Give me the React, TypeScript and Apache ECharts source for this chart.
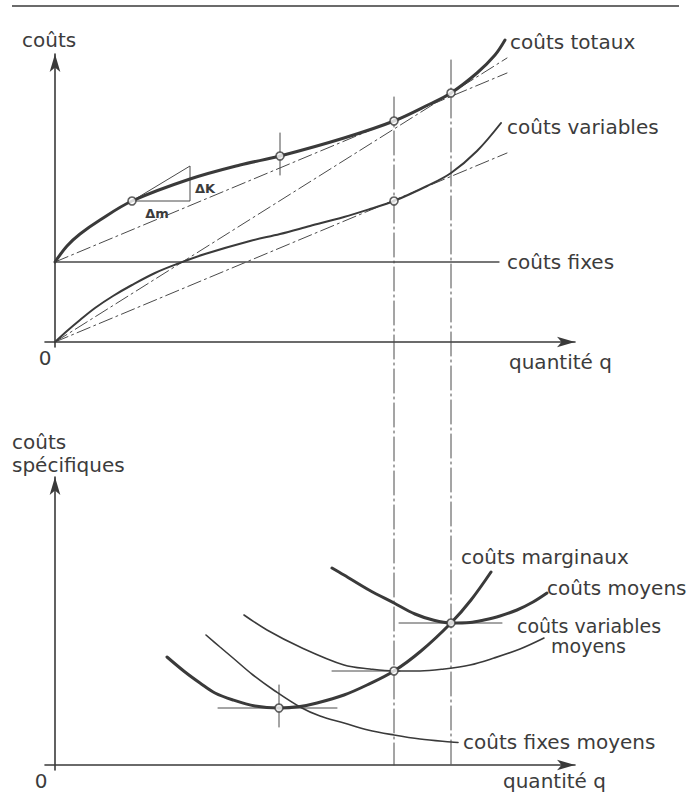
import React, { useEffect, useRef } from "react";
import * as echarts from "echarts";

// ---------- data (arbitrary units: quantity q, costs) ----------
// upper diagram: total costs
const totalCost: number[][] = [
  [0, 8.0], [1.2, 9.6], [2.5, 10.8], [4.5, 12.2], [7.7, 14.1], [13.5, 16.3], [18.5, 17.7],
  [22.5, 18.6], [28.9, 20.4], [33.9, 22.1], [37.5, 23.8], [39.6, 24.9], [42.2, 26.9],
  [44.0, 28.7], [45.0, 30.2],
];
const variableCost: number[][] = [
  [0, 0], [1.2, 1.1], [2.5, 2.2], [4.0, 3.4], [5.8, 4.6], [7.7, 5.7], [10.0, 6.9], [12.2, 7.8],
  [15.0, 8.8], [19.5, 10.1], [22.5, 10.8], [25.5, 11.6], [28.9, 12.5], [31.5, 13.3], [33.9, 14.1],
  [37.2, 15.6], [39.6, 16.9], [42.2, 19.1], [44.6, 21.9],
];
const fixedCost: number[][] = [[0, 8.0], [44.4, 8.0]];
// dash-dot rays
const rayOriginTotal: number[][] = [[0, 0], [45.2, 28.4]];
const rayFixedTotal: number[][] = [[0, 8.0], [45.2, 26.9]];
const rayOriginVariable: number[][] = [[0, 0], [45.2, 18.9]];
// tangent triangle (ΔK / Δm)
const tangentTriangle: number[][] = [[7.7, 14.1], [13.5, 17.6], [13.5, 14.1], [7.7, 14.1]];
const inflectionTick: number[][] = [[22.5, 20.9], [22.5, 16.7]];
const upperPoints: number[][] = [[7.7, 14.1], [22.5, 18.6], [33.9, 22.1], [39.6, 24.9], [33.9, 14.1]];

// lower diagram: unit costs
const marginalCost: number[][] = [
  [11.2, 10.8], [13.0, 9.3], [14.5, 8.2], [16.0, 7.2], [17.8, 6.5], [20.0, 5.9], [22.4, 5.7],
  [24.5, 5.85], [26.2, 6.2], [28.9, 7.0], [31.2, 8.0], [33.9, 9.4], [36.6, 11.4], [39.6, 14.2],
  [41.6, 16.5], [43.6, 19.3],
];
const averageCost: number[][] = [
  [27.7, 19.7], [28.9, 19.0], [31.4, 17.5], [33.9, 16.2], [36.0, 15.1], [37.8, 14.5], [39.6, 14.2],
  [41.5, 14.25], [42.9, 14.5], [44.5, 14.9], [46.2, 15.5], [47.8, 16.3], [49.2, 17.2],
];
const averageVariableCost: number[][] = [
  [18.9, 15.0], [21.2, 13.5], [24.5, 11.8], [28.9, 10.0], [31.5, 9.6], [33.9, 9.4], [36.5, 9.4],
  [38.9, 9.6], [41.5, 10.0], [43.9, 10.7], [46.5, 11.6], [48.9, 12.7],
];
const averageFixedCost: number[][] = [
  [15.1, 13.0], [16.5, 11.8], [17.8, 10.7], [19.8, 9.0], [22.0, 7.4], [24.5, 5.8], [26.5, 4.9],
  [28.9, 4.2], [31.3, 3.5], [33.9, 3.0], [36.5, 2.6], [39.6, 2.3], [40.3, 2.25],
];
const mcMinCrossH: number[][] = [[16.3, 5.7], [28.2, 5.7]];
const mcMinCrossV: number[][] = [[22.4, 8.0], [22.4, 3.8]];
const avcMinTick: number[][] = [[27.7, 9.4], [34.5, 9.4]];
const acMinTick: number[][] = [[34.4, 14.2], [44.7, 14.2]];
const lowerPoints: number[][] = [[22.4, 5.7], [33.9, 9.4], [39.6, 14.2]];
// guide lines joining both diagrams (drawn in lower diagram's scale)
const guideAvcMin: number[][] = [[33.9, 66.8], [33.9, 0]];
const guideAcMin: number[][] = [[39.6, 70.5], [39.6, 0]];

// ---------- styling ----------
const INK = "#3a3a3a";
const THIN = "#4a4a4a";
const FONT = "DejaVu Sans";
const DASHDOT: number[] = [14, 4, 2, 4];
const LONGDASHDOT: number[] = [24, 4, 2, 4];

function lineSeries(data: number[][], gi: number, width: number, extra: any = {}) {
  return {
    type: "line",
    xAxisIndex: gi,
    yAxisIndex: gi,
    data,
    showSymbol: false,
    symbol: "none",
    clip: false,
    silent: true,
    smooth: extra.smooth ?? false,
    z: extra.z ?? 3,
    lineStyle: { color: extra.color ?? INK, width, type: extra.type ?? "solid", cap: "round" },
  };
}

function pointSeries(data: number[][], gi: number) {
  return {
    type: "scatter",
    xAxisIndex: gi,
    yAxisIndex: gi,
    data,
    symbol: "circle",
    symbolSize: 8,
    clip: false,
    silent: true,
    z: 10,
    itemStyle: { color: "#ffffff", borderColor: INK, borderWidth: 1.6 },
  };
}

function axisPair(gi: number) {
  const common = {
    gridIndex: gi,
    type: "value",
    axisLine: {
      show: true,
      onZero: true,
      symbol: ["none", "arrow"],
      symbolSize: [8, 18],
      lineStyle: { color: INK, width: 1.6 },
    },
    axisTick: { show: false },
    axisLabel: { show: false },
    splitLine: { show: false },
  };
  return {
    x: { ...common, min: -1, max: 52 },
    y: { ...common, min: -0.5, max: 28.8 },
  };
}

function txt(text: string, x: number, y: number, size = 20, align = "left", weight: any = "normal") {
  return {
    type: "text",
    x,
    y,
    silent: true,
    style: {
      text,
      fill: "#3c3c3c",
      fontFamily: FONT,
      fontSize: size,
      fontWeight: weight,
      textAlign: align,
      textVerticalAlign: "middle",
    },
  };
}

export default function App() {
  const ref = useRef<HTMLDivElement>(null);
  useEffect(() => {
    if (!ref.current) return;
    const chart = echarts.init(ref.current, undefined, { renderer: "svg" });
    const a0 = axisPair(0);
    const a1 = axisPair(1);
    chart.setOption({
      animation: false,
      backgroundColor: "#ffffff",
      grid: [
        { left: 45, top: 54, width: 530, height: 293 },
        { left: 45, top: 477, width: 530, height: 293 },
      ],
      xAxis: [a0.x, a1.x],
      yAxis: [a0.y, a1.y],
      series: [
        // upper diagram
        lineSeries(totalCost, 0, 3, { smooth: 0.35, z: 5 }),
        lineSeries(variableCost, 0, 2, { smooth: 0.35, z: 5 }),
        lineSeries(fixedCost, 0, 1.3, { color: THIN }),
        lineSeries(rayOriginTotal, 0, 1, { color: THIN, type: DASHDOT }),
        lineSeries(rayFixedTotal, 0, 1, { color: THIN, type: DASHDOT }),
        lineSeries(rayOriginVariable, 0, 1, { color: THIN, type: DASHDOT }),
        lineSeries(tangentTriangle, 0, 1, { color: THIN }),
        lineSeries(inflectionTick, 0, 1, { color: THIN }),
        pointSeries(upperPoints, 0),
        // lower diagram
        lineSeries(marginalCost, 1, 3, { smooth: 0.35, z: 5 }),
        lineSeries(averageCost, 1, 3, { smooth: 0.35, z: 5 }),
        lineSeries(averageVariableCost, 1, 1.6, { smooth: 0.35, z: 5 }),
        lineSeries(averageFixedCost, 1, 1.6, { smooth: 0.35, z: 5 }),
        lineSeries(mcMinCrossH, 1, 1, { color: THIN }),
        lineSeries(mcMinCrossV, 1, 1, { color: THIN }),
        lineSeries(avcMinTick, 1, 1, { color: THIN }),
        lineSeries(acMinTick, 1, 1, { color: THIN }),
        lineSeries(guideAvcMin, 1, 1, { color: THIN, type: LONGDASHDOT }),
        lineSeries(guideAcMin, 1, 1, { color: THIN, type: LONGDASHDOT }),
        pointSeries(lowerPoints, 1),
      ],
      graphic: [
        {
          type: "line",
          silent: true,
          shape: { x1: 12, y1: 6, x2: 679, y2: 6 },
          style: { stroke: INK, lineWidth: 1.6 },
        },
        txt("coûts", 22, 40),
        txt("coûts totaux", 510, 42),
        txt("coûts variables", 507, 127),
        txt("coûts fixes", 507, 262),
        txt("ΔK", 195, 188, 13, "left", "bold"),
        txt("Δm", 157, 213, 13, "center", "bold"),
        txt("0", 45, 358, 20, "center"),
        txt("quantité q", 509, 362),
        txt("coûts", 12, 442),
        txt("spécifiques", 12, 465),
        txt("coûts marginaux", 461, 557),
        txt("coûts moyens", 547, 588),
        txt("coûts variables", 517, 626, 19),
        txt("moyens", 551, 646, 19),
        txt("coûts fixes moyens", 463, 742),
        txt("0", 41, 781, 20, "center"),
        txt("quantité q", 503, 781),
      ],
    });
    return () => chart.dispose();
  }, []);
  return (
    <div
      ref={ref}
      style={{ position: "fixed", left: 0, top: 0, width: 688, height: 794, background: "#fff" }}
    />
  );
}
